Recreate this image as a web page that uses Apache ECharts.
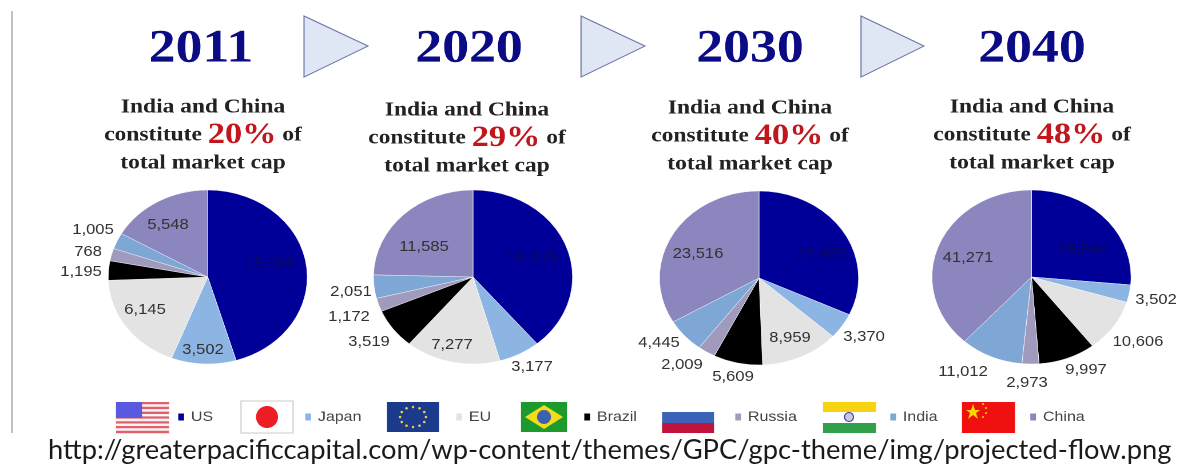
<!DOCTYPE html>
<html><head><meta charset="utf-8">
<style>html,body{margin:0;padding:0;background:#fff;overflow:hidden;width:1177px;height:468px}
#main{position:absolute;left:0;top:0;width:1029px;height:468px;transform:scaleX(1.144);transform-origin:0 0;filter:blur(0.4px)}
#url{position:absolute;left:0;top:432px;width:1177px;height:36px}</style>
<script src="https://cdn.jsdelivr.net/npm/echarts@6/dist/echarts.min.js"></script></head>
<body><div id="main"></div><div id="url"></div>
<script>
const years=['2011','2020','2030','2040'];
const shares=['20%','29%','40%','48%'];
const regions=['US','Japan','EU','Brazil','Russia','India','China'];
const values2011=[15098,3502,6145,1195,768,1005,5548];
const values2020=[18315,3177,7277,3519,1172,2051,11585];
const values2030=[22452,3370,8959,5609,2009,4445,23516];
const values2040=[28544,3502,10606,9997,2973,11012,41271];
const sourceUrl='http://greaterpacificcapital.com/wp-content/themes/GPC/gpc-theme/img/projected-flow.png';

const S=1.144;
const X=v=>v/S;
const allValues=[values2011,values2020,values2030,values2040];
const colors=['#000099','#8db5e4','#e3e3e3','#000000','#a09bbd','#7fa7d6','#8b86bd'];
const serif='"Liberation Serif",serif', sans='"Liberation Sans",Arial,sans-serif';
const centers=[[207.7,277],[473,277],[759,278],[1031.5,277]];
const R=87;
const labelSpots=[
 [[270,264],[203,350],[145,310],[81,272],[88,252],[93,230],[168,225]],
 [[532,258],[532,367],[452,345],[369,342],[349,317],[351,292],[424,247]],
 [[822,254],[864,337],[790,338],[733,377],[682,365],[659,343],[698,254]],
 [[1083,250],[1156,300],[1138,342],[1086,370],[1027,383],[963,372],[968,258]]
];
const yearX=[201,469,750,1032];
const subX=[203,467,750,1032];
const subY=[93,96,94,93];
const title=[];
years.forEach((y,i)=>{
 title.push({text:y,left:X(yearX[i]),top:26,textAlign:'center',padding:0,
  textStyle:{fontFamily:serif,fontWeight:'bold',fontSize:47,color:'#0b0b85'}});
 title.push({text:'India and China\nconstitute {p|'+shares[i]+'} of\ntotal market cap',left:X(subX[i]),top:subY[i],textAlign:'center',padding:0,
  textStyle:{fontFamily:serif,fontWeight:'bold',fontSize:20.5,lineHeight:28,color:'#222',
   rich:{p:{fontFamily:serif,fontWeight:'bold',fontSize:30,color:'#c0161c',lineHeight:28}}}});
});
const series=allValues.map((vals,i)=>({
 type:'pie',name:years[i],radius:R,center:[X(centers[i][0]),centers[i][1]],startAngle:90,clockwise:true,
 silent:true,animation:false,
 itemStyle:{borderWidth:0.4,borderColor:'#fff'},
 label:{show:true,position:'inside',formatter:p=>p.value.toLocaleString('en-US'),fontFamily:sans,fontSize:14.5,color:'#333'},
 labelLine:{show:false},
 labelLayout:p=>{const s=labelSpots[i][p.dataIndex];return{x:X(s[0]),y:s[1],align:'center',verticalAlign:'middle'};},
 data:regions.map((n,k)=>({name:n,value:vals[k],itemStyle:{color:colors[k]},
   label:k===0?{color:'#0a0a5c'}:{}}))
}));
const legendX=[176,303,454,582,733,888,1028];
const legend=regions.map((n,k)=>({data:[n],left:X(legendX[k]),top:410,padding:0,itemWidth:7,itemHeight:9,itemGap:4,icon:'rect',selectedMode:false,
 textStyle:{fontFamily:sans,fontSize:14,color:'#444'}}));

function rect(x,y,w,h,fill,extra){return Object.assign({type:'rect',shape:{x:X(x),y,width:w/S,height:h},style:{fill},silent:true},extra||{});}
function ell(cx,cy,rx,ry,fill,stroke){return{type:'ellipse',shape:{cx:X(cx),cy,rx:rx/S,ry},style:{fill,stroke:stroke||null},silent:true};}
const g=[];
g.push(rect(11,11,2,422,'#bdbdbd'));
[[304,368],[581,645],[861,924]].forEach(a=>g.push({type:'polygon',shape:{points:[[X(a[0]),16],[X(a[1]),46],[X(a[0]),77]]},style:{fill:'#dfe7f5',stroke:'#6d74a6',lineWidth:1},silent:true}));
// US flag
for(let j=0;j<13;j++)g.push(rect(116,402+j*2.4,53,2.4,j%2?'#f4f4f8':'#e0606a'));
g.push(rect(116,402,26,16,'#5a5ae0'));
// Japan
g.push({type:'rect',shape:{x:X(241),y:401,width:52/S,height:32},style:{fill:'#fff',stroke:'#ccc',lineWidth:1},silent:true});
g.push(ell(267,417,11,11,'#ee1c25'));
// EU
g.push(rect(387,402,52,30,'#1b3a8c'));
for(let j=0;j<12;j++){const t=j*Math.PI/6;g.push(ell(413+13*Math.cos(t),417+10*Math.sin(t),1.3,1.3,'#e8d44a'));}
// Brazil
g.push(rect(521,402,46,30,'#1c9a2c'));
g.push({type:'polygon',shape:{points:[[X(525),417],[X(544),405],[X(563),417],[X(544),429]]},style:{fill:'#f2dc1c'},silent:true});
g.push(ell(544,417,7,7,'#3a62b0'));
// Russia
g.push(rect(662,412,52,11,'#3c62b8'));
g.push(rect(662,423,52,10,'#c0143c'));
// India
g.push(rect(823,402,53,10,'#f7d312'));
g.push(rect(823,423,53,10,'#32a04a'));
g.push(ell(849,417,4.5,4.5,'#c8c8e0','#3a3a8c'));
// China
g.push(rect(962,402,53,31,'#f01010'));
g.push({type:'polygon',shape:{points:[[X(973),404],[X(975),410],[X(980),410],[X(976),413],[X(978),419],[X(973),415],[X(968),419],[X(970),413],[X(966),410],[X(971),410]]},style:{fill:'#f5d800'},silent:true});
[[983,404],[986,408],[986,413],[983,417]].forEach(p=>g.push(ell(p[0],p[1],1,1,'#f5d800')));

const chart=echarts.init(document.getElementById('main'),null,{renderer:'canvas',devicePixelRatio:2});
chart.setOption({animation:false,backgroundColor:'#fff',title,legend,series,graphic:{elements:g},tooltip:{show:false}});
const urlChart=echarts.init(document.getElementById('url'));
urlChart.setOption({animation:false,title:{text:sourceUrl,left:48,top:5,padding:0,textStyle:{fontFamily:'Lato',fontWeight:'normal',fontSize:27.3,color:'#1a1a1a'}}});
</script></body></html>
